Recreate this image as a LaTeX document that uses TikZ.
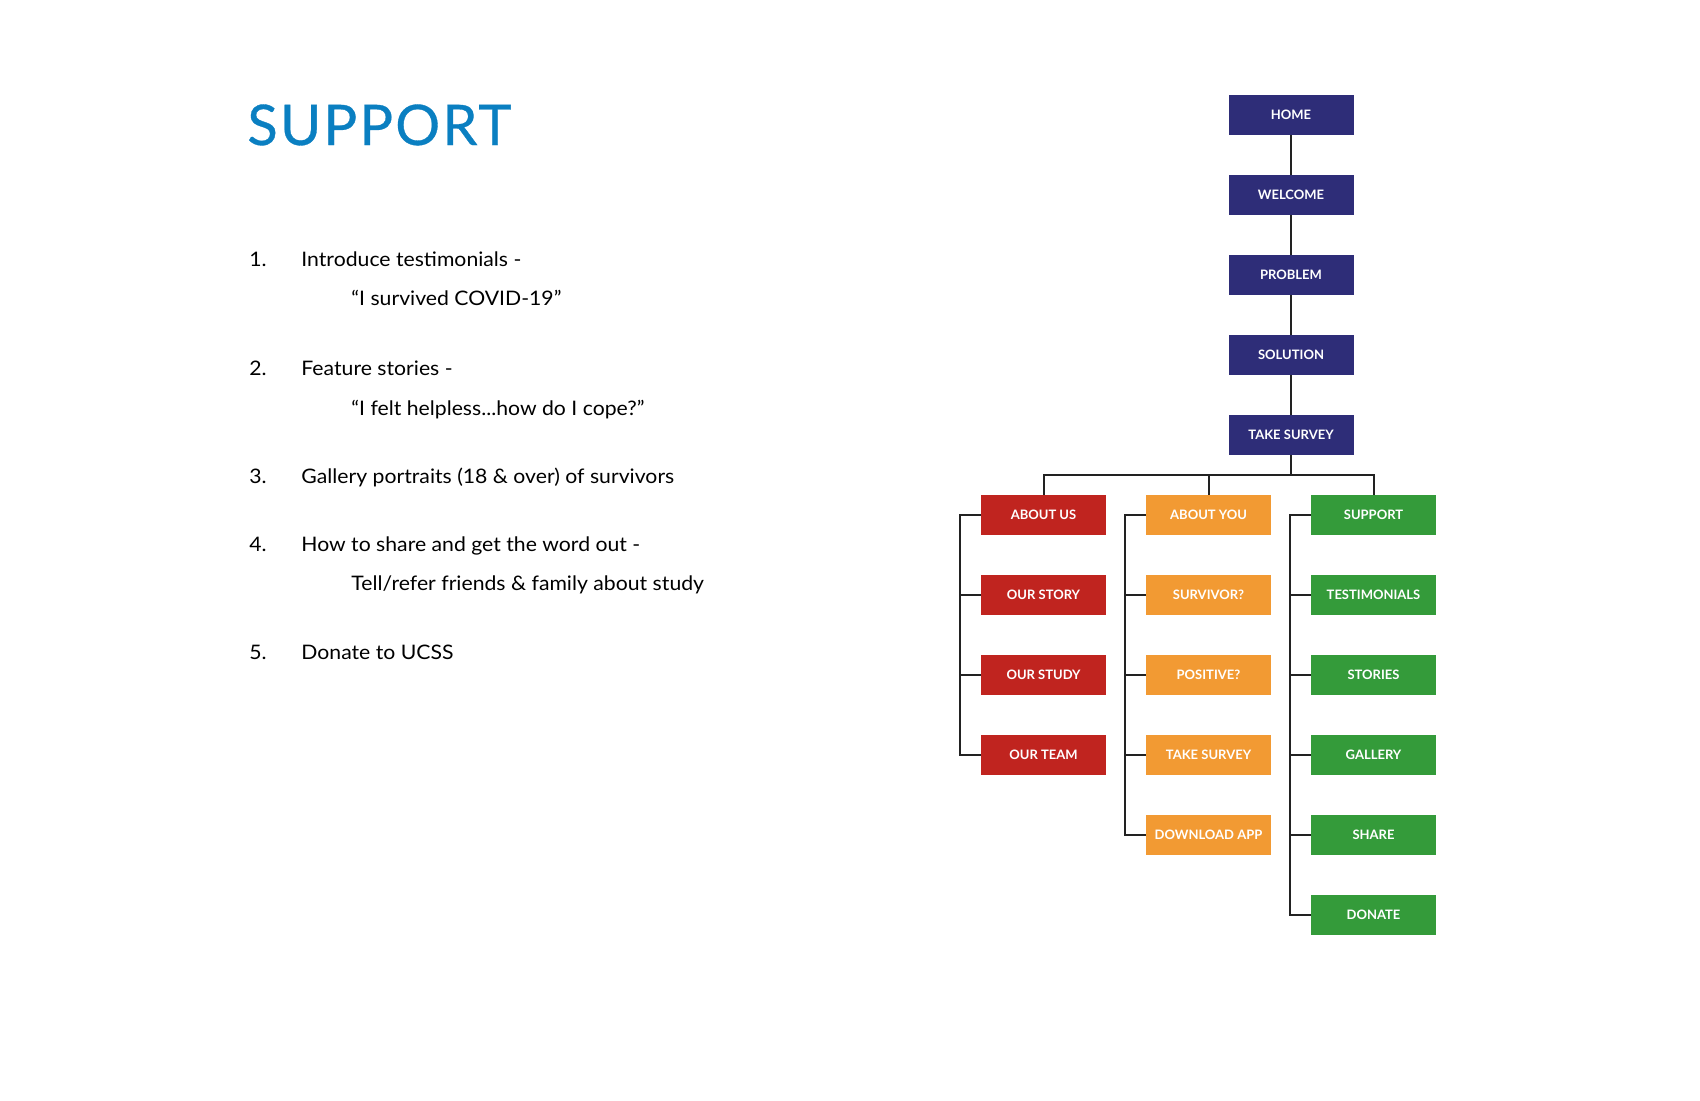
\documentclass[tikz,border=0pt]{standalone}
\usepackage{fontspec}
\setmainfont{Lato}
\newfontfamily\listfont[FakeStretch=1.06]{Lato}
\newfontfamily\titlefont[LetterSpace=4,FakeBold=0.6]{Lato}
\definecolor{navy}{HTML}{2E2D78}
\definecolor{redc}{HTML}{C0241F}
\definecolor{orangec}{HTML}{F29A33}
\definecolor{greenc}{HTML}{349B3A}
\definecolor{titleblue}{HTML}{0A7FC1}
\definecolor{linec}{HTML}{222222}
\begin{document}
\begin{tikzpicture}[x=0.5pt,y=-0.5pt,
  box/.style={minimum width=62.5pt,minimum height=20pt,inner sep=0pt,text=white,
    font=\bfseries\fontsize{6.5}{7}\selectfont},
  navbox/.style={box,fill=navy},
  redbox/.style={box,fill=redc},
  orbox/.style={box,fill=orangec},
  grbox/.style={box,fill=greenc},
  conn/.style={draw=linec,line width=1pt},
  listtext/.style={anchor=base west,inner sep=0pt,font=\listfont\fontsize{10}{12}\selectfont,text=black},
  titletext/.style={anchor=base west,inner sep=0pt,font=\titlefont\fontsize{28}{32}\selectfont,text=titleblue}]
\useasboundingbox[fill=white] (0,0) rectangle (1700,1100);

% title and list
\node[titletext] (title) at (247,145) {SUPPORT};
\node[listtext] (n1) at (249,266.7) {1.};
\node[listtext] (t1) at (301,266.7) {Introduce testimonials -};
\node[listtext] (s1) at (351,305.5) {“I survived COVID-19”};
\node[listtext] (n2) at (249,375) {2.};
\node[listtext] (t2) at (301,375) {Feature stories -};
\node[listtext] (s2) at (351,415) {“I felt helpless...how do I cope?”};
\node[listtext] (n3) at (249,483.3) {3.};
\node[listtext] (t3) at (301,483.3) {Gallery portraits (18 \& over) of survivors};
\node[listtext] (n4) at (249,551.5) {4.};
\node[listtext] (t4) at (301,551.5) {How to share and get the word out -};
\node[listtext] (s4) at (351,590.5) {Tell/refer friends \& family about study};
\node[listtext] (n5) at (249,659.5) {5.};
\node[listtext] (t5) at (301,659.5) {Donate to UCSS};

% main chain
\node[navbox] (home) at (1291,115) {HOME};
\node[navbox] (welcome) at (1291,195) {WELCOME};
\node[navbox] (problem) at (1291,275) {PROBLEM};
\node[navbox] (solution) at (1291,355) {SOLUTION};
\node[navbox] (survey) at (1291,435) {TAKE SURVEY};

% columns
\node[redbox] (aboutus) at (1043.5,515) {ABOUT US};
\node[redbox] (ourstory) at (1043.5,595) {OUR STORY};
\node[redbox] (ourstudy) at (1043.5,675) {OUR STUDY};
\node[redbox] (ourteam) at (1043.5,755) {OUR TEAM};

\node[orbox] (aboutyou) at (1208.5,515) {ABOUT YOU};
\node[orbox] (survivor) at (1208.5,595) {SURVIVOR?};
\node[orbox] (positive) at (1208.5,675) {POSITIVE?};
\node[orbox] (takesurvey) at (1208.5,755) {TAKE SURVEY};
\node[orbox] (download) at (1208.5,835) {DOWNLOAD APP};

\node[grbox] (support) at (1373.5,515) {SUPPORT};
\node[grbox] (testimonials) at (1373.5,595) {TESTIMONIALS};
\node[grbox] (stories) at (1373.5,675) {STORIES};
\node[grbox] (gallery) at (1373.5,755) {GALLERY};
\node[grbox] (share) at (1373.5,835) {SHARE};
\node[grbox] (donate) at (1373.5,915) {DONATE};

% connectors
\draw[conn] (home) -- (welcome);
\draw[conn] (welcome) -- (problem);
\draw[conn] (problem) -- (solution);
\draw[conn] (solution) -- (survey);
\coordinate (bar) at (1291,475);
\draw[conn] (survey) -- (bar);
\draw[conn] (aboutus.north) |- (bar) -| (support.north);
\draw[conn] (aboutyou.north) -- (aboutyou.north |- bar);

\coordinate (rx) at (959.5,0);
\coordinate (ox) at (1124.5,0);
\coordinate (gx) at (1289.5,0);
\draw[conn] (aboutus.west) -| (ourteam.west -| rx) -- (ourteam.west);
\draw[conn] (ourstory.west) -- (ourstory.west -| rx);
\draw[conn] (ourstudy.west) -- (ourstudy.west -| rx);

\draw[conn] (aboutyou.west) -| (download.west -| ox) -- (download.west);
\draw[conn] (survivor.west) -- (survivor.west -| ox);
\draw[conn] (positive.west) -- (positive.west -| ox);
\draw[conn] (takesurvey.west) -- (takesurvey.west -| ox);

\draw[conn] (support.west) -| (donate.west -| gx) -- (donate.west);
\draw[conn] (testimonials.west) -- (testimonials.west -| gx);
\draw[conn] (stories.west) -- (stories.west -| gx);
\draw[conn] (gallery.west) -- (gallery.west -| gx);
\draw[conn] (share.west) -- (share.west -| gx);
\end{tikzpicture}
\end{document}
